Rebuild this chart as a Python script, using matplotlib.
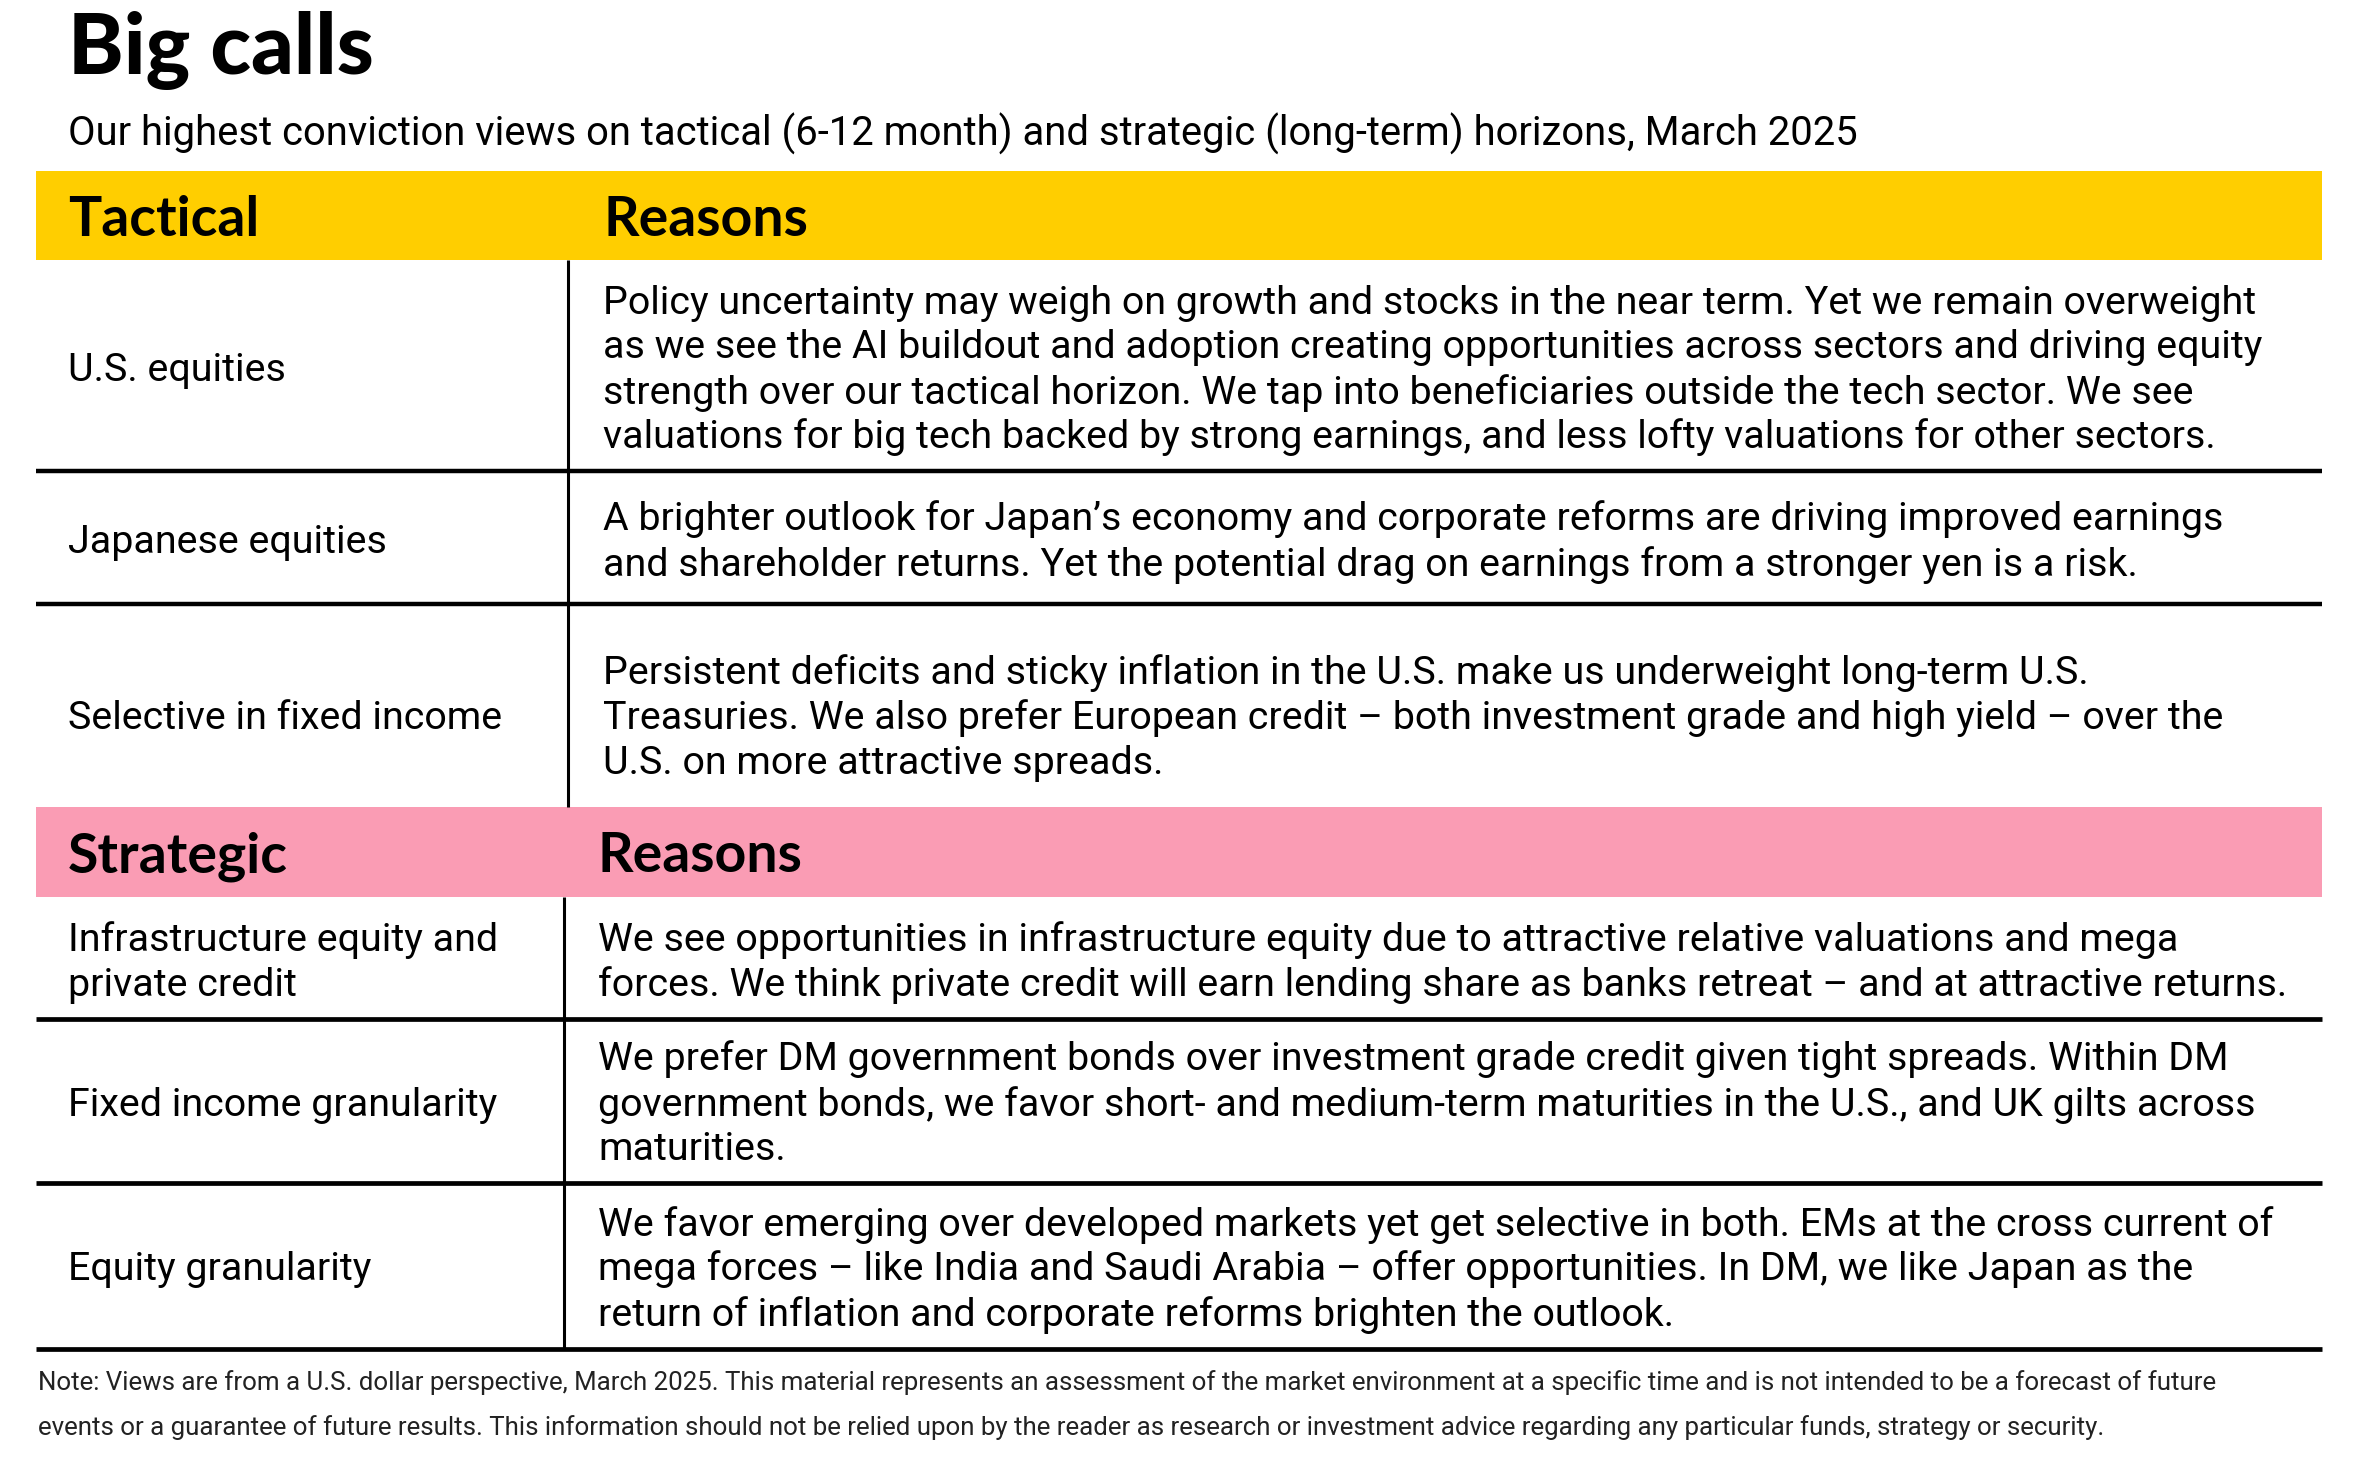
import matplotlib
matplotlib.use("Agg")
import matplotlib.pyplot as plt
from matplotlib import font_manager
from matplotlib.patches import Rectangle

# data
title = "Big calls"
subtitle = ("Our highest conviction views on tactical (6-12 month) and strategic "
            "(long-term) horizons, March 2025")

tactical_views = ["U.S. equities", "Japanese equities", "Selective in fixed income"]
tactical_reasons = [
    ["Policy uncertainty may weigh on growth and stocks in the near term. Yet we remain overweight",
     "as we see the AI buildout and adoption creating opportunities across sectors and driving equity",
     "strength over our tactical horizon. We tap into beneficiaries outside the tech sector. We see",
     "valuations for big tech backed by strong earnings, and less lofty valuations for other sectors."],
    ["A brighter outlook for Japan\u2019s economy and corporate reforms are driving improved earnings",
     "and shareholder returns. Yet the potential drag on earnings from a stronger yen is a risk."],
    ["Persistent deficits and sticky inflation in the U.S. make us underweight long-term U.S.",
     "Treasuries. We also prefer European credit \u2013 both investment grade and high yield \u2013 over the",
     "U.S. on more attractive spreads."],
]

strategic_views = ["Infrastructure equity and\nprivate credit", "Fixed income granularity",
                   "Equity granularity"]
strategic_reasons = [
    ["We see opportunities in infrastructure equity due to attractive relative valuations and mega",
     "forces. We think private credit will earn lending share as banks retreat \u2013 and at attractive returns."],
    ["We prefer DM government bonds over investment grade credit given tight spreads. Within DM",
     "government bonds, we favor short- and medium-term maturities in the U.S., and UK gilts across",
     "maturities."],
    ["We favor emerging over developed markets yet get selective in both. EMs at the cross current of",
     "mega forces \u2013 like India and Saudi Arabia \u2013 offer opportunities. In DM, we like Japan as the",
     "return of inflation and corporate reforms brighten the outlook."],
]

note_lines = [
    "Note: Views are from a U.S. dollar perspective, March 2025. This material represents an assessment "
    "of the market environment at a specific time and is not intended to be a forecast of future",
    "events or a guarantee of future results. This information should not be relied upon by the reader "
    "as research or investment advice regarding any particular funds, strategy or security.",
]


def pick(cands):
    for c in cands:
        try:
            font_manager.findfont(font_manager.FontProperties(family=c), fallback_to_default=False)
            return c
        except Exception:
            pass
    return "DejaVu Sans"


body_font = pick(["Roboto", "Open Sans", "Lato", "DejaVu Sans"])
head_font = pick(["Lato", "Roboto", "DejaVu Sans"])

YELLOW = "#FFCE00"
PINK = "#FA9CB4"

W, H = 2357, 1460
fig = plt.figure(figsize=(W / 100, H / 100), dpi=100)
ax = fig.add_axes([0, 0, 1, 1])
ax.set_xlim(0, W)
ax.set_ylim(H, 0)
ax.axis("off")
renderer = fig.canvas.get_renderer()


def fit(text, width, **kw):
    # font size that makes the text span the given pixel width
    t = ax.text(0, 0, text, fontsize=20, **kw)
    w = t.get_window_extent(renderer).width
    t.remove()
    return 20 * width / w


title_size = fit(title, 307, family=head_font, weight="black")
head_size = fit("Tactical", 191, family=head_font, weight="bold")
sub_size = fit(subtitle, 1790, family=body_font)
body_size = fit(tactical_reasons[0][0], 1650, family=body_font)
note_size = fit(note_lines[0], 2180, family=body_font)

LEFT, RIGHT = 36, 2322
LX = 68
GAP = 45
CAP = 23

ax.text(LX, 74, title, fontsize=title_size, family=head_font, weight="black", va="baseline")
ax.text(LX, 146, subtitle, fontsize=sub_size, family=body_font, va="baseline")


def section(band, edges, vline_x, text_x, head, views, reasons, offsets, color):
    b0, b1 = band
    ax.add_patch(Rectangle((LEFT, b0), RIGHT - LEFT, b1 - b0, color=color, lw=0))
    yb = (b0 + b1) / 2 + 20
    ax.text(LX, yb, head, fontsize=head_size, family=head_font, weight="bold", va="baseline")
    ax.text(text_x, yb, "Reasons", fontsize=head_size, family=head_font, weight="bold", va="baseline")
    ax.plot([vline_x, vline_x], [b1, edges[-1]], color="black", lw=2.2, solid_capstyle="butt")
    for i, (view, lines) in enumerate(zip(views, reasons)):
        yc = (edges[i] + edges[i + 1]) / 2 + offsets[i]
        vl = view.split("\n")
        for j, s in enumerate(vl):
            y = yc + CAP / 2 + (j - (len(vl) - 1) / 2) * GAP
            ax.text(LX, y, s, fontsize=body_size, family=body_font, va="baseline")
        for j, s in enumerate(lines):
            y = yc + CAP / 2 + (j - (len(lines) - 1) / 2) * GAP
            ax.text(text_x, y, s, fontsize=body_size, family=body_font, va="baseline")


# tactical block
tac_edges = [260, 471, 604, 807]
section((171, 260), tac_edges, 568, 603, "Tactical", tactical_views, tactical_reasons,
        [4, 4, 12], YELLOW)
for y in tac_edges[1:-1]:
    ax.plot([LEFT, RIGHT], [y, y], color="black", lw=3.2, solid_capstyle="butt")

# strategic block
str_edges = [897, 1019, 1183, 1349]
section((807, 897), str_edges, 564, 598, "Strategic", strategic_views, strategic_reasons,
        [4, 3, 3], PINK)
for y in str_edges[1:]:
    ax.plot([LEFT, RIGHT], [y, y], color="black", lw=3.4, solid_capstyle="butt")

# note
for i, s in enumerate(note_lines):
    ax.text(38, 1390 + i * 45, s, fontsize=note_size, family=body_font, va="baseline",
            color="#222222")

fig.savefig("out.png", dpi=100, facecolor="white")
